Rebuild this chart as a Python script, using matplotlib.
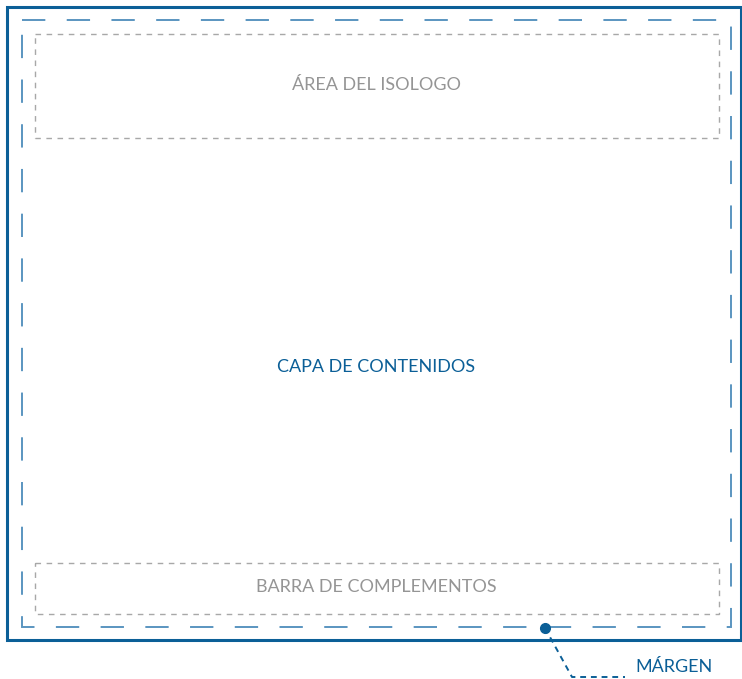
import matplotlib
matplotlib.use("Agg")
import matplotlib.pyplot as plt
from matplotlib.patches import Rectangle

# Layout regions (labels)
labels = ["ÁREA DEL ISOLOGO", "CAPA DE CONTENIDOS", "BARRA DE COMPLEMENTOS"]
note_label = "MÁRGEN"

W, H = 742, 679
fig = plt.figure(figsize=(W / 100, H / 100), dpi=100)
ax = fig.add_axes([0, 0, 1, 1])
ax.set_xlim(0, W)
ax.set_ylim(H, 0)
ax.axis("off")

dark_blue = "#0b5f97"
mid_blue = "#5a95c0"
gray_line = "#a8a8a8"
gray_text = "#959595"
font = ["Lato", "DejaVu Sans"]
fs = 13

# outer solid border
ax.add_patch(Rectangle((6.5, 6.5), 734.5, 633.5, fill=False, ec=dark_blue, lw=2.2))

# margin dashed
ax.add_patch(Rectangle((22, 19.5), 709, 607.5, fill=False, ec=mid_blue, lw=1.4,
                       ls=(0, (12, 11))))

# gray dotted boxes
ax.add_patch(Rectangle((34.5, 33.5), 684.5, 104, fill=False, ec=gray_line, lw=1.0,
                       ls=(0, (4, 4))))
ax.add_patch(Rectangle((34.5, 562.5), 684.5, 51.5, fill=False, ec=gray_line, lw=1.0,
                       ls=(0, (4, 4))))

ax.text(376, 85, labels[0], color=gray_text, fontsize=fs, ha="center", va="center",
        family=font)
ax.text(376, 367, labels[1], color=dark_blue, fontsize=fs, ha="center", va="center",
        family=font)
ax.text(376, 587, labels[2], color=gray_text, fontsize=fs, ha="center", va="center",
        family=font)

# annotation
ax.plot([545, 572, 625], [628, 677, 677], color=dark_blue, lw=1.4, ls=(0, (3, 2.5)))
ax.plot([545], [628], marker="o", ms=7, color=dark_blue)
ax.text(635, 667, note_label, color=dark_blue, fontsize=fs, ha="left", va="center",
        family=font)

fig.savefig("out.png", dpi=100)
